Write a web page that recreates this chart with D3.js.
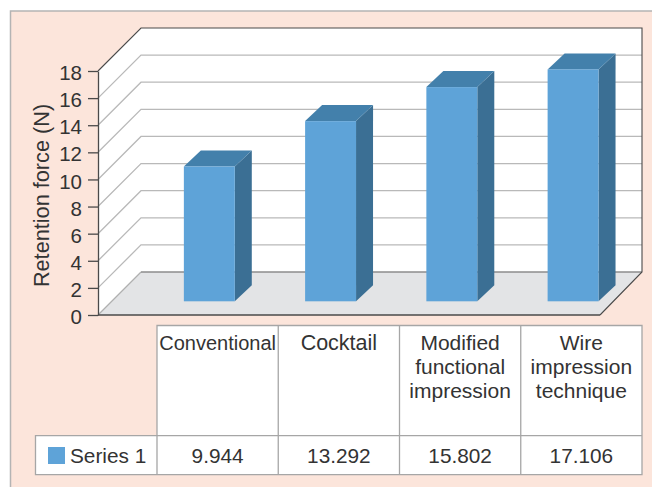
<!DOCTYPE html>
<html>
<head>
<meta charset="utf-8">
<script src="https://cdn.jsdelivr.net/npm/d3@7"></script>
<style>
  html, body { margin: 0; padding: 0; background: #fff; }
  svg { display: block; }
  text { font-family: "Liberation Sans", Arial, sans-serif; fill: #333; }
</style>
</head>
<body>
<svg id="chart" width="652" height="487"></svg>
<script>
const categories = ["Conventional", "Cocktail", "Modified functional impression", "Wire impression technique"];
const categoryLines = [["Conventional"], ["Cocktail"], ["Modified", "functional", "impression"], ["Wire", "impression", "technique"]];
const headerSizes = [20, 21.5, 21, 21];
const seriesName = "Series 1";
const seriesValues = [9.944, 13.292, 15.802, 17.106];
const valueLabels = ["9.944", "13.292", "15.802", "17.106"];
const yTicks = [0, 2, 4, 6, 8, 10, 12, 14, 16, 18];
const axisTitle = "Retention force (N)";

const svg = d3.select("#chart");

// Panel behind the plot
svg.append("rect").attr("x", 10.5).attr("y", 11).attr("width", 660).attr("height", 490)
  .attr("fill", "#fce5db").attr("stroke", "#b4b4b4").attr("stroke-width", 1.5);

// Oblique projection: the wall sits 43px back and up from the front plane
const depth = 43;
const barDepthX = 17, barDepthY = 16, barInset = 13.7;
const y = d3.scaleLinear().domain([0, 18]).range([315, 71]);
const frontLeft = 98, frontRight = 600;
const x = d3.scaleBand().domain(categories).range([148.7, 633.7]).paddingInner(0.58).paddingOuter(0.29);
const columns = d3.scaleBand().domain(categories).range([157, 642]);

const poly = pts => pts.map(p => p.join(",")).join(" ");

// Walls and floor
svg.append("polygon")
  .attr("points", poly([[frontLeft, y(18)], [frontLeft + depth, y(18) - depth], [frontRight + depth - 1, y(18) - depth],
                        [frontRight + depth - 1, y(0) - depth], [frontLeft + depth, y(0) - depth], [frontLeft, y(0)]]))
  .attr("fill", "#fff");
svg.append("polygon")
  .attr("points", poly([[frontLeft, y(0)], [frontLeft + depth, y(0) - depth], [frontRight + depth - 1, y(0) - depth], [frontRight, y(0)]]))
  .attr("fill", "#e3e4e6");

// Gridlines wrapping the left and back walls
const grid = svg.append("g").attr("fill", "none");
grid.selectAll("path").data(yTicks.filter(t => t > 0 && t < 18)).join("path")
  .attr("d", t => `M${frontLeft},${y(t)}L${frontLeft + depth},${y(t) - depth}H${frontRight + depth - 1}`)
  .attr("stroke", "#b9b9b9").attr("stroke-width", 1.3);

// Frame edges
const edge = (d, color, w) => svg.append("path").attr("d", d).attr("fill", "none").attr("stroke", color).attr("stroke-width", w);
edge(`M${frontLeft},${y(0)}L${frontLeft + depth},${y(0) - depth}`, "#b0b0b0", 1.2);
edge(`M${frontLeft + depth},${y(0) - depth}H${frontRight + depth - 1}`, "#8c8c8c", 1.4);
edge(`M${frontLeft},${y(18)}L${frontLeft + depth},${y(18) - depth}H${frontRight + depth - 1}V${y(0) - depth}L${frontRight},${y(0)}`, "#4a4a4a", 1.1);

// Bars: front, top and side faces
const bars = svg.append("g").selectAll("g").data(categories).join("g");
const barBase = y(0) - barInset;
const barTop = (i) => barBase - (y(0) - y(seriesValues[i]));
bars.append("polygon")
  .attr("points", (c, i) => {
    const r = x(c) + x.bandwidth();
    return poly([[r, barTop(i)], [r + barDepthX, barTop(i) - barDepthY], [r + barDepthX, barBase - barDepthY], [r, barBase]]);
  }).attr("fill", "#3b6f94");
bars.append("polygon")
  .attr("points", (c, i) => {
    const l = x(c), r = l + x.bandwidth();
    return poly([[l, barTop(i)], [l + barDepthX, barTop(i) - barDepthY], [r + barDepthX, barTop(i) - barDepthY], [r, barTop(i)]]);
  }).attr("fill", "#4380ab");
bars.append("rect")
  .attr("x", c => x(c)).attr("width", x.bandwidth())
  .attr("y", (c, i) => barTop(i)).attr("height", (c, i) => barBase - barTop(i))
  .attr("fill", "#5ea3d8");

// Value axis
const axis = svg.append("g").attr("transform", `translate(${frontLeft},0)`)
  .call(d3.axisLeft(y).tickValues(yTicks).tickSize(10).tickPadding(6).tickSizeOuter(0));
axis.selectAll("line, path").attr("stroke", "#4a4a4a").attr("stroke-width", 1.3);
axis.selectAll("text").attr("font-size", 20.5).attr("dy", "0.42em").style("fill", "#333");
edge(`M${frontLeft},${y(0)}H${frontRight}`, "#4a4a4a", 1.3);

svg.append("text").attr("transform", "translate(48.5,195.5) rotate(-90)")
  .attr("text-anchor", "middle").attr("font-size", 21.7).text(axisTitle);

// Data table under the plot
const tableTop = 325.5, tableMid = 435.7, tableBottom = 474.7, tableLeft = 35.5, tableRight = 642;
const table = svg.append("g");
table.append("rect").attr("x", 157).attr("y", tableTop).attr("width", tableRight - 157).attr("height", tableBottom - tableTop).attr("fill", "#fff");
table.append("rect").attr("x", tableLeft).attr("y", tableMid).attr("width", 157 - tableLeft).attr("height", tableBottom - tableMid).attr("fill", "#fff");
const tableLine = "#a6a6a6";
table.append("path").attr("fill", "none").attr("stroke", tableLine).attr("stroke-width", 1.3)
  .attr("d", `M157,${tableMid}V${tableTop}H${tableRight}V${tableBottom}H${tableLeft}V${tableMid}H${tableRight}M157,${tableMid}V${tableBottom}`);
table.selectAll("line.col").data(categories.slice(1)).join("line").attr("class", "col")
  .attr("x1", c => columns(c)).attr("x2", c => columns(c)).attr("y1", tableTop).attr("y2", tableBottom)
  .attr("stroke", tableLine).attr("stroke-width", 1.3);

const colCenter = c => columns(c) + columns.bandwidth() / 2;
const headers = table.selectAll("text.head").data(categories).join("text").attr("class", "head")
  .attr("text-anchor", "middle").attr("font-size", (c, i) => headerSizes[i]);
headers.selectAll("tspan").data((c, i) => categoryLines[i].map(line => ({ line, c }))).join("tspan")
  .attr("x", d => colCenter(d.c)).attr("y", (d, i) => 350 + i * 24).text(d => d.line);

table.selectAll("text.val").data(categories).join("text").attr("class", "val")
  .attr("x", colCenter).attr("y", 463).attr("text-anchor", "middle").attr("font-size", 20.8)
  .text((c, i) => valueLabels[i]);

// Legend key inside the table
table.append("rect").attr("x", 48).attr("y", 447).attr("width", 17).attr("height", 17).attr("fill", "#5ea3d8");
table.append("text").attr("x", 70).attr("y", 463).attr("font-size", 20.8).text(seriesName);
</script>
</body>
</html>
